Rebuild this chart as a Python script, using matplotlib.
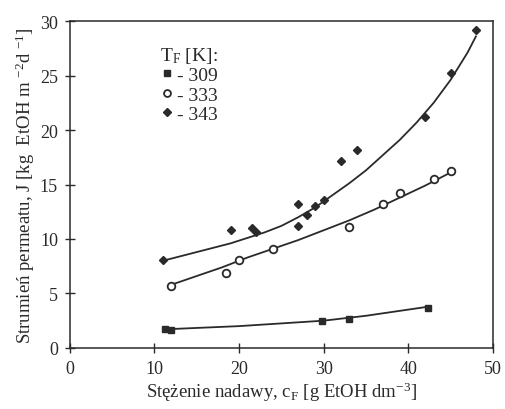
import matplotlib.pyplot as plt

plt.rcParams['font.family'] = ['Liberation Serif', 'DejaVu Serif']
plt.rcParams['mathtext.fontset'] = 'custom'
plt.rcParams['mathtext.rm'] = 'Liberation Serif'
plt.rcParams['mathtext.it'] = 'Liberation Serif:italic'

# measured points
x309 = [11.2, 12.0, 29.8, 33.0, 42.3]
y309 = [1.7, 1.6, 2.5, 2.7, 3.7]

x333 = [12.0, 18.5, 20.0, 24.0, 33.0, 37.0, 39.0, 43.0, 45.0]
y333 = [5.7, 6.9, 8.1, 9.1, 11.1, 13.2, 14.2, 15.5, 16.2]

x343 = [11.0, 19.0, 21.5, 22.0, 27.0, 27.0, 28.0, 29.0, 30.0, 32.0, 34.0, 42.0, 45.0, 48.0]
y343 = [8.1, 10.8, 11.0, 10.6, 13.2, 11.2, 12.2, 13.0, 13.6, 17.2, 18.2, 21.2, 25.2, 29.2]

# fitted curves
fx309 = [11, 20, 30, 35, 42.5]
fy309 = [1.7, 2.0, 2.5, 2.95, 3.8]

fx333 = [12, 15, 18, 21, 24, 27, 30, 33, 36, 39, 42, 45.5]
fy333 = [5.8, 6.6, 7.4, 8.3, 9.1, 9.9, 10.8, 11.7, 12.7, 13.8, 14.9, 16.3]

fx343 = [11, 13, 15, 17, 19, 21, 23, 25, 27, 29, 31, 33, 35, 37, 39, 41, 43, 45, 47, 48]
fy343 = [8.0, 8.4, 8.8, 9.2, 9.6, 10.1, 10.6, 11.2, 12.0, 12.9, 14.0, 15.1, 16.3, 17.7, 19.1, 20.7, 22.5, 24.6, 27.1, 28.6]

col = '#2a2a2a'

fig = plt.figure(figsize=(5.06, 4.10), dpi=100)
ax = fig.add_axes([0.138, 0.149, 0.836, 0.797])

ax.plot(fx309, fy309, color=col, lw=1.3)
ax.plot(fx333, fy333, color=col, lw=1.3)
ax.plot(fx343, fy343, color=col, lw=1.3)

ax.plot(x309, y309, 's', color=col, ms=4.5, ls='none', label='- 309')
ax.plot(x333, y333, 'o', mfc='white', mec=col, mew=1.3, ms=5.5, ls='none', label='- 333')
ax.plot(x343, y343, 'D', color=col, ms=4, ls='none', label='- 343')

ax.set_xlim(0, 50)
ax.set_ylim(0, 30)
ax.set_xticks([0, 10, 20, 30, 40, 50])
ax.set_yticks([0, 5, 10, 15, 20, 25, 30])
ax.tick_params(direction='inout', length=7, width=1, labelsize=13, colors=col, pad=5)
for s in ax.spines.values():
    s.set_color(col)
    s.set_linewidth(1.1)

ax.set_xlabel('Stężenie nadawy, c$_\\mathrm{F}$ [g EtOH dm$^{-3}$]', fontsize=13.5, color=col, labelpad=2)
ax.set_ylabel('Strumień permeatu, J [kg  EtOH m $^{-2}$d $^{-1}$]', fontsize=13.5, color=col, labelpad=2)

leg = ax.legend(title='T$_\\mathrm{F}$ [K]:', loc='upper left', bbox_to_anchor=(0.18, 0.97),
                frameon=False, fontsize=14, title_fontsize=14, handlelength=0.6,
                handletextpad=0.2, labelspacing=0.1, borderpad=0.2, markerscale=0.9)
leg._legend_box.align = 'right'
for t in leg.get_texts():
    t.set_color(col)
leg.get_title().set_color(col)

fig.savefig('out.png', dpi=100)
